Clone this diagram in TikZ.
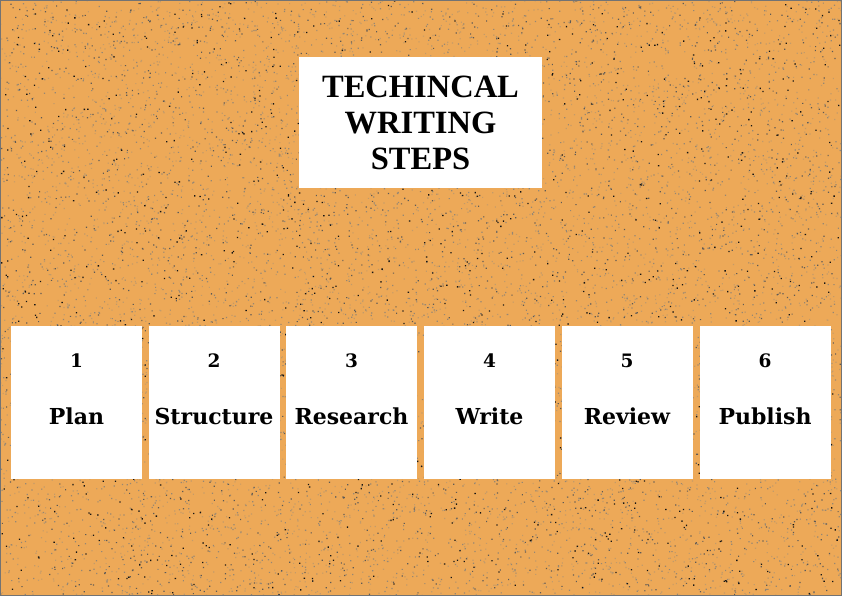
\documentclass[tikz,border=0pt]{standalone}
\usepackage{fontspec}
\setmainfont{Liberation Serif}
\newfontfamily\stepfont{DejaVu Serif}
\definecolor{cork}{RGB}{237,169,88}
\definecolor{dA}{RGB}{20,20,20}
\definecolor{dB}{RGB}{95,90,85}
\definecolor{dC}{RGB}{150,135,115}
\definecolor{dD}{RGB}{195,155,105}
\tikzset{
  card/.style={fill=white, draw=none, minimum width=131pt, minimum height=153pt, inner sep=0pt},
  titlecard/.style={fill=white, draw=none, minimum width=243pt, minimum height=131pt, inner sep=0pt,
    align=center, font=\fontsize{32.5}{36}\selectfont\bfseries},
  numtext/.style={anchor=base, font=\stepfont\bfseries\fontsize{18.5}{20}\selectfont},
  steptext/.style={anchor=base, font=\stepfont\bfseries\fontsize{22}{24}\selectfont},
}
\begin{document}
\begin{tikzpicture}[x=1pt,y=-1pt]
\useasboundingbox (0,0) rectangle (842,596);
\fill[cork] (0,0) rectangle (842,596);
\pgfmathsetseed{7}
\fill[dD] \foreach \i in {1,...,5000}{ (rnd*842,rnd*596) rectangle ++(1.2,1.2) };
\fill[dC] \foreach \i in {1,...,4000}{ (rnd*842,rnd*596) rectangle ++(1.2,1.2) };
\fill[dB] \foreach \i in {1,...,2500}{ (rnd*842,rnd*596) rectangle ++(1.2,1.2) };
\fill[dA] \foreach \i in {1,...,1200}{ (rnd*842,rnd*596) rectangle ++(1.3,1.3) };
\draw[line width=1.2pt, draw=black!55] (0.6,0.6) rectangle (841.4,595.4);

\node[titlecard] (title) at (420.5,122.5) {TECHINCAL\\WRITING\\STEPS};

\foreach \k/\xx/\nm in {1/76.5/Plan, 2/214/Structure, 3/351.5/Research, 4/489.5/Write, 5/627/Review, 6/765/Publish}{
  \node[card] (s\k) at (\xx,402.5) {};
  \node[numtext] (n\k) at ([yshift=35.5pt]s\k.center) {\k};
  \node[steptext] (w\k) at ([yshift=-21.5pt]s\k.center) {\nm};
}
\end{tikzpicture}
\end{document}
